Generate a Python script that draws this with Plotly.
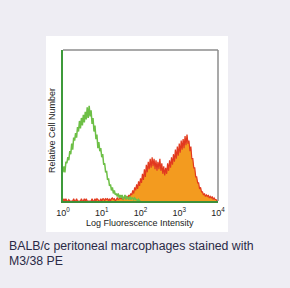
import plotly.graph_objects as go

# log10 bin width of the histogram channels
BIN_STEP = 0.025

# Unstained / control histogram (green), starting at log10 = 0
green_counts = [
    0.19, 0.23, 0.19, 0.26, 0.25, 0.29, 0.27, 0.33, 0.31, 0.38,
    0.34, 0.42, 0.40, 0.45, 0.42, 0.49, 0.46, 0.53, 0.48, 0.55,
    0.50, 0.57, 0.52, 0.59, 0.54, 0.62, 0.55, 0.63, 0.56, 0.60,
    0.51, 0.55, 0.46, 0.50, 0.41, 0.44, 0.35, 0.39, 0.33, 0.35,
    0.29, 0.31, 0.24, 0.25, 0.19, 0.20, 0.14, 0.15, 0.10, 0.11,
    0.07, 0.09, 0.05, 0.07, 0.04, 0.05, 0.03, 0.05, 0.02, 0.04,
    0.02, 0.04, 0.01, 0.03, 0.04, 0.01, 0.03, 0.02, 0.01, 0.03,
    0.01, 0.02, 0.02, 0.01, 0.02, 0.01, 0.01, 0.0, 0.01, 0.0,
    0.0,
]

# M3/38 PE stained histogram (orange), starting at log10 = 0
stained_counts = [
    0.0, 0.015, 0.0, 0.015, 0.0, 0.0, 0.01, 0.0, 0.0, 0.0,
    0.0, 0.015, 0.0, 0.0, 0.015, 0.0, 0.0, 0.0, 0.0, 0.015,
    0.0, 0.0, 0.015, 0.0, 0.015, 0.0, 0.0, 0.0, 0.0, 0.0,
    0.015, 0.0, 0.0, 0.015, 0.0, 0.015, 0.01, 0.0, 0.0, 0.015,
    0.0, 0.015, 0.015, 0.0, 0.015, 0.01, 0.015, 0.0, 0.015, 0.0,
    0.015, 0.02, 0.01, 0.015, 0.0, 0.015, 0.02, 0.01, 0.015, 0.02,
    0.015, 0.02, 0.01, 0.02, 0.03, 0.02, 0.03, 0.02,
    0.04, 0.03, 0.05, 0.04, 0.07, 0.05, 0.09, 0.07, 0.11, 0.08,
    0.13, 0.10, 0.15, 0.12, 0.18, 0.14, 0.21, 0.16, 0.24, 0.19,
    0.26, 0.21, 0.28, 0.22, 0.29, 0.23, 0.28, 0.21, 0.27, 0.20,
    0.26, 0.21, 0.28, 0.20, 0.25, 0.18, 0.23, 0.17, 0.22, 0.18,
    0.25, 0.20, 0.27, 0.22, 0.29, 0.24, 0.31, 0.26, 0.34, 0.28,
    0.36, 0.30, 0.38, 0.32, 0.40, 0.34, 0.41, 0.35, 0.43, 0.37,
    0.44, 0.38, 0.40, 0.33, 0.36, 0.28, 0.28, 0.22, 0.22, 0.16,
    0.16, 0.12, 0.12, 0.08, 0.09, 0.06, 0.06, 0.04, 0.05, 0.03,
    0.04, 0.03, 0.04, 0.02, 0.03, 0.02, 0.03, 0.01, 0.02, 0.01,
    0.01, 0.0, 0.0,
]

tick_values = [1, 10, 100, 1000, 10000]
tick_labels = ["10<sup>0</sup>", "10<sup>1</sup>", "10<sup>2</sup>",
               "10<sup>3</sup>", "10<sup>4</sup>"]

x_title = "Log Fluorescence Intensity"
y_title = "Relative Cell Number"
caption_lines = ["BALB/c peritoneal marcophages stained with", "M3/38 PE"]

green_x = [10 ** (i * BIN_STEP) for i in range(len(green_counts))]
stained_x = [10 ** (i * BIN_STEP) for i in range(len(stained_counts))]

fig = go.Figure()
fig.add_trace(go.Scatter(
    x=stained_x, y=stained_counts, mode="lines",
    line=dict(color="#e2391f", width=1.2),
    fill="tozeroy", fillcolor="#f39b1f", hoverinfo="skip",
))
fig.add_trace(go.Scatter(
    x=green_x, y=green_counts, mode="lines",
    line=dict(color="#6dbf46", width=1.5), hoverinfo="skip",
))

W, H = 290, 288
L, R, T, B = 63, 218, 50, 201
pw, ph = R - L, B - T

def px(x):
    return (x - L) / pw

def py(y):
    return (B - y) / ph

shapes = [
    # white panel behind the chart
    dict(type="rect", xref="paper", yref="paper", layer="below",
         x0=px(46), x1=px(228), y0=py(232), y1=py(36),
         fillcolor="white", line=dict(width=0)),
    # top and right frame lines
    dict(type="line", xref="paper", yref="paper", x0=0, x1=1, y0=1, y1=1,
         line=dict(color="#8c8c8c", width=1.5)),
    dict(type="line", xref="paper", yref="paper", x0=1, x1=1, y0=0, y1=1,
         line=dict(color="#8c8c8c", width=1.5)),
]

annotations = [
    dict(text=y_title, xref="paper", yref="paper", x=px(52), y=py(131),
         textangle=-90, showarrow=False, xanchor="center", yanchor="middle",
         font=dict(family="Liberation Sans, Arial", size=9, color="#222222")),
    dict(text=x_title, xref="paper", yref="paper", x=px(140), y=py(222.5),
         showarrow=False, xanchor="center", yanchor="middle",
         font=dict(family="Liberation Sans, Arial", size=9, color="#222222")),
]
for line_text, yc in zip(caption_lines, [246.5, 261]):
    annotations.append(dict(
        text=line_text, xref="paper", yref="paper", x=px(7), y=py(yc),
        showarrow=False, xanchor="left", yanchor="middle", align="left",
        font=dict(family="Liberation Sans, Arial", size=12.3,
                  color="#2a2a46")))

fig.update_layout(
    width=W, height=H,
    margin=dict(l=L, r=W - R, t=T, b=H - B, pad=0),
    paper_bgcolor="#eeedf3", plot_bgcolor="white",
    showlegend=False,
    shapes=shapes, annotations=annotations,
    xaxis=dict(type="log", range=[0, 4], tickvals=tick_values,
               ticktext=tick_labels, showgrid=False, zeroline=False,
               showline=True, linecolor="#3d8f3a", linewidth=1.5,
               ticks="", ticklabelstandoff=2,
               tickfont=dict(family="Liberation Sans, Arial", size=9,
                             color="#222222")),
    yaxis=dict(range=[0, 1], showticklabels=False, showgrid=False,
               zeroline=False, showline=True, linecolor="#3d9a3a",
               linewidth=2, ticks=""),
)

fig.write_html("out.html")
